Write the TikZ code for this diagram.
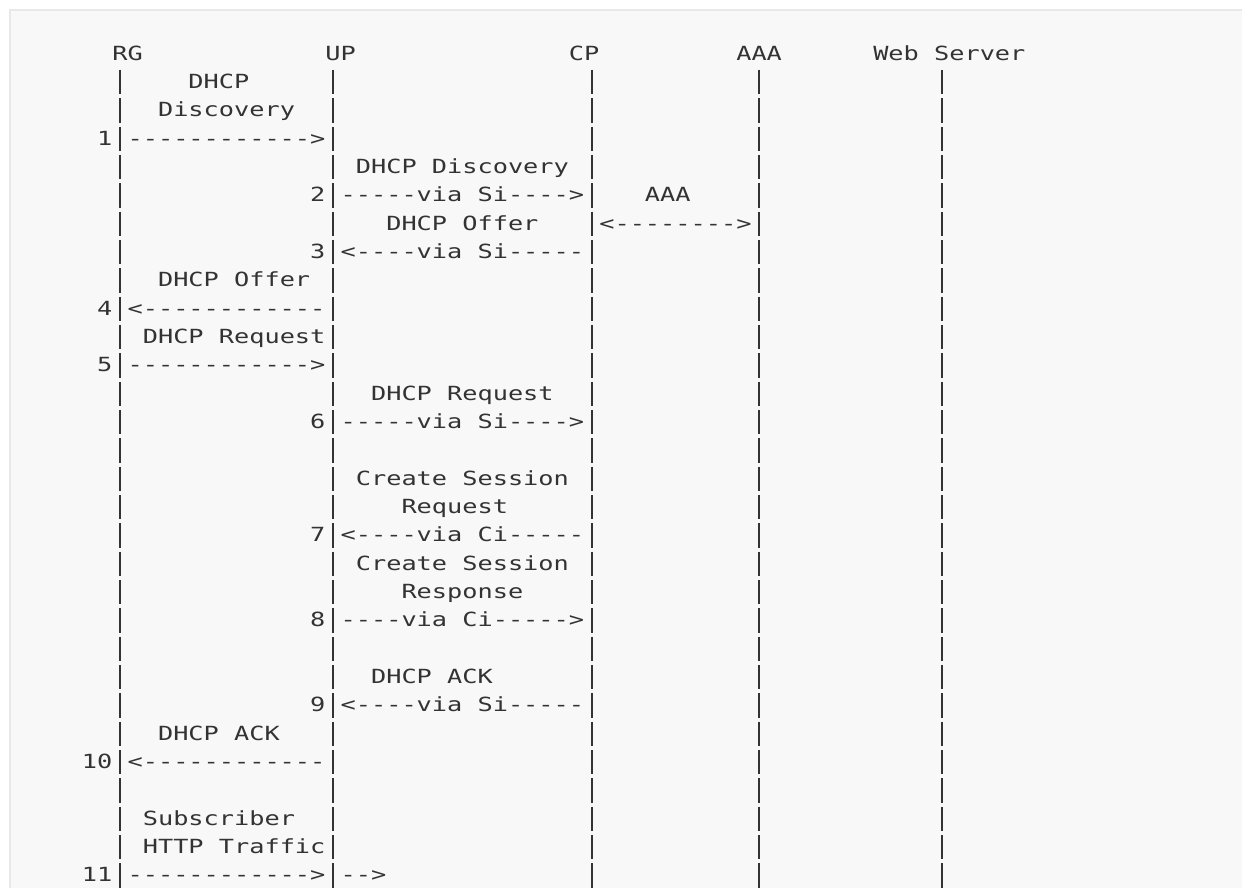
\documentclass[tikz,border=0pt]{standalone}
\usepackage{fontspec}
\setmonofont[FakeStretch=1.296]{DejaVu Sans Mono}
\usepackage{tikz}
\definecolor{ink}{HTML}{333333}
\definecolor{paper}{HTML}{F8F8F8}
\definecolor{rim}{HTML}{E8E8E8}

\begin{document}
\begin{tikzpicture}[x=1pt, y=1pt,
  ascii/.style={anchor=base west, inner sep=0pt, outer sep=0pt, text=ink,
    font=\ttfamily\fontsize{19.5}{23}\selectfont},
  lifeline/.style={draw=ink, line width=1.9pt, dash pattern=on 24.4pt off 3.94pt}]
  \useasboundingbox (0,-887) rectangle (1242,0);
  \fill[white] (0,-887) rectangle (1242,0);
  \filldraw[fill=paper, draw=rim, line width=2pt] (10,-10) rectangle (1270,-920);
  % one unit = one character cell: columns across, text rows down
  \begin{scope}[shift={(28.7,-60)}, x=15.217pt, y=-28.34pt]
    % entity names
    \foreach \n/\c/\t in {rg/6/RG, up/20/UP, cp/36/CP, aaa/47/AAA, web/56/Web Server}
      \node[ascii] (\n) at (\c-0.5,0) {\t};
    % life lines, one bar per text row
    \foreach \n/\c in {rg/6, up/20, cp/37, aaa/48, web/60} {
      \coordinate (\n-top) at (\c,0.347);
      \coordinate (\n-end) at (\c,29.21);
      \draw[lifeline] (\n-top) -- (\n-end);
    }
    % messages, step numbers and ascii arrows: column/row/text
    \foreach \c/\r/\t in {
      11/1/DHCP, 9/2/Discovery, 5/3/1, 7/3/{------------>},
      22/4/{DHCP Discovery},
      19/5/2, 21/5/{-----via Si---->}, 41/5/AAA,
      24/6/{DHCP Offer}, 38/6/{<-------->},
      19/7/3, 21/7/{<----via Si-----},
      9/8/{DHCP Offer}, 5/9/4, 7/9/{<------------},
      8/10/{DHCP Request}, 5/11/5, 7/11/{------------>},
      23/12/{DHCP Request}, 19/13/6, 21/13/{-----via Si---->},
      22/15/{Create Session}, 25/16/Request,
      19/17/7, 21/17/{<----via Ci-----},
      22/18/{Create Session}, 25/19/Response,
      19/20/8, 21/20/{----via Ci----->},
      23/22/{DHCP ACK}, 19/23/9, 21/23/{<----via Si-----},
      9/24/{DHCP ACK}, 4/25/10, 7/25/{<------------},
      8/27/Subscriber, 8/28/{HTTP Traffic},
      4/29/11, 7/29/{------------>}, 21/29/{-->}}
      \node[ascii] (t-\r-\c) at (\c-0.5,\r) {\t};
  \end{scope}
\end{tikzpicture}
\end{document}
